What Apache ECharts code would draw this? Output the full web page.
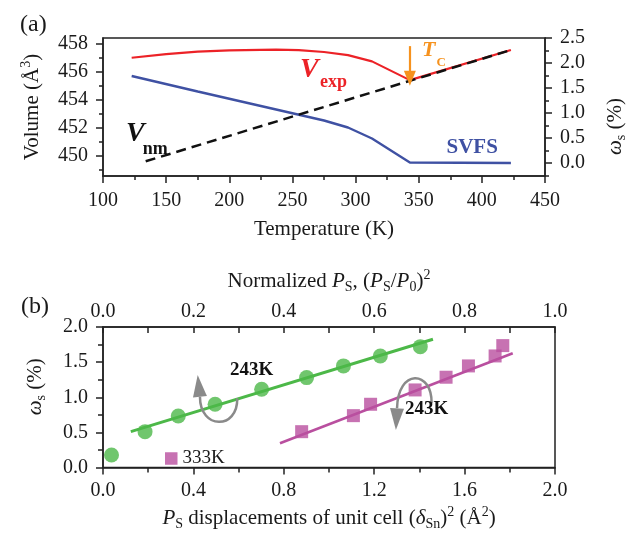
<!DOCTYPE html>
<html>
<head>
<meta charset="utf-8">
<script src="https://cdn.jsdelivr.net/npm/echarts@6/dist/echarts.min.js"></script>
<style>
  html, body { margin: 0; padding: 0; background: #fff; }
  #chart { width: 636px; height: 535px; }
</style>
</head>
<body>
<div id="chart"></div>
<script>
// ---- panel (a): volume / SVFS vs temperature ----
const vexpT = [122.7, 150, 175, 200, 237, 255, 275, 294, 313, 343, 423];
const vexpV = [457.02, 457.28, 457.45, 457.55, 457.6, 457.57, 457.43, 457.21, 456.76, 455.42, 457.57];
const vnmT = [133.8, 423];
const vnmV = [449.62, 457.57];
const svfsT = [122.7, 175, 225, 275, 294, 313, 343, 423];
const svfsW = [1.74, 1.43, 1.14, 0.85, 0.71, 0.49, 0.01, 0.0];
const tcT = 343;
const tcArrowV = [457.85, 455.55];

const volTicks = [450, 452, 454, 456, 458];
const volMinor = [449, 450, 451, 452, 453, 454, 455, 456, 457, 458];
const wTicks = [0, 0.5, 1, 1.5, 2, 2.5];
const wMinor = [-0.25, 0, 0.25, 0.5, 0.75, 1, 1.25, 1.5, 1.75, 2, 2.25, 2.5];

// ---- panel (b): omega_s vs Ps displacement ----
const dispGreen = [0.186, 0.333, 0.496, 0.702, 0.901, 1.064, 1.227, 1.404];
const wGreen = [0.51, 0.733, 0.90, 1.114, 1.28, 1.446, 1.588, 1.72];
const fitGreenX = [0.123, 1.460];
const fitGreenY = [0.51, 1.826];
const dispPink = [0.879, 1.108, 1.184, 1.381, 1.518, 1.617, 1.735, 1.769];
const wPink = [0.51, 0.738, 0.90, 1.104, 1.285, 1.446, 1.588, 1.735];
const fitPinkX = [0.783, 1.813];
const fitPinkY = [0.345, 1.627];

// curved arrows (data coords of panel b)
const arrowsB = [
  { from: [0.594, 0.985], c1: [0.597, 0.534], c2: [0.429, 0.534], to: [0.429, 1.008], tip: [0.419, 1.317] },
  { from: [1.454, 0.914], c1: [1.456, 1.388], c2: [1.305, 1.416], to: [1.301, 0.843], tip: [1.296, 0.534] }
];

const FONT = 'Liberation Serif';
const INK = '#1a1a1a';
const RED = '#ec2227', BLUE = '#3f51a3', GREEN = '#4cb848', PINK = '#b94f9f', ORANGE = '#f6921e', GRAY = '#8a8a8a';

const pairs = (xs, ys) => xs.map((x, i) => [x, ys[i]]);
const fmt1 = v => Number(v).toFixed(1);

const nameRich = {
  n: { fontFamily: FONT, fontSize: 21, color: INK, lineHeight: 26 },
  i: { fontFamily: FONT, fontSize: 21, color: INK, lineHeight: 26, fontStyle: 'italic' },
  sub: { fontFamily: FONT, fontSize: 14, color: INK, lineHeight: 8, verticalAlign: 'bottom' },
  sup: { fontFamily: FONT, fontSize: 14, color: INK, lineHeight: 12, verticalAlign: 'top' }
};
const nameStyle = extra => Object.assign({ fontFamily: FONT, fontSize: 21, color: INK, lineHeight: 26, rich: nameRich }, extra || {});
const axisLine = { show: true, onZero: false, lineStyle: { color: '#222', width: 1.5 } };
const noLine = { show: false, onZero: false };
const tickLine = { color: '#222', width: 1.5 };
const labelStyle = { fontFamily: FONT, fontSize: 20, color: INK };

const chart = echarts.init(document.getElementById('chart'));

const option = {
  animation: false,
  backgroundColor: '#fff',
  grid: [
    { left: 103, right: 81, top: 38, height: 138, show: true, borderColor: '#222', borderWidth: 1.5, backgroundColor: 'transparent' },
    { left: 103, right: 81, top: 327, height: 140.5, show: true, borderColor: '#222', borderWidth: 1.5, backgroundColor: 'transparent' }
  ],
  xAxis: [
    {
      type: 'value', gridIndex: 0, position: 'bottom', min: 100, max: 450, interval: 50,
      axisLine, splitLine: { show: false },
      axisTick: { length: 7, lineStyle: tickLine },
      minorTick: { show: true, splitNumber: 2, length: 4, lineStyle: tickLine },
      axisLabel: Object.assign({ margin: 15 }, labelStyle),
      name: 'Temperature (K)', nameLocation: 'middle', nameGap: 40, nameTextStyle: nameStyle()
    },
    {
      type: 'value', gridIndex: 1, position: 'bottom', min: 0, max: 2, interval: 0.4,
      axisLine, splitLine: { show: false },
      axisTick: { length: 7, lineStyle: tickLine },
      minorTick: { show: true, splitNumber: 2, length: 5, lineStyle: tickLine },
      axisLabel: Object.assign({ margin: 13, formatter: fmt1 }, labelStyle),
      name: '{i|P}{sub|S}{n| displacements of unit cell (}{i|δ}{sub|Sn}{n|)}{sup|2}{n| (Å}{sup|2}{n|)}',
      nameLocation: 'middle', nameGap: 38, nameTextStyle: nameStyle()
    },
    {
      type: 'value', gridIndex: 1, position: 'top', min: 0, max: 1, interval: 0.2,
      axisLine, splitLine: { show: false },
      axisTick: { inside: true, length: 6, lineStyle: tickLine },
      minorTick: { show: true, splitNumber: 2, length: 6, lineStyle: tickLine },
      axisLabel: Object.assign({ margin: 5, formatter: fmt1 }, labelStyle),
      name: '{n|Normalized }{i|P}{sub|S}{n|, (}{i|P}{sub|S}{n|/}{i|P}{sub|0}{n|)}{sup|2}',
      nameLocation: 'middle', nameGap: 33, nameTextStyle: nameStyle()
    }
  ],
  yAxis: [
    {
      type: 'value', gridIndex: 0, position: 'left', min: 448.57, max: 458.43,
      axisLine, splitLine: { show: false },
      axisTick: { customValues: volTicks, length: 7, lineStyle: tickLine },
      axisLabel: Object.assign({ customValues: volTicks, margin: 15 }, labelStyle),
      name: '{n|Volume (Å}{sup|3}{n|)}', nameLocation: 'middle', nameGap: 58, nameTextStyle: nameStyle()
    },
    {
      type: 'value', gridIndex: 0, position: 'left', min: 448.57, max: 458.43,
      axisLine: noLine, splitLine: { show: false }, axisLabel: { show: false },
      axisTick: { customValues: volMinor, length: 4, lineStyle: tickLine }
    },
    {
      type: 'value', gridIndex: 0, position: 'right', min: -0.26, max: 2.5,
      axisLine, splitLine: { show: false },
      axisTick: { customValues: wTicks, length: 7, lineStyle: tickLine },
      axisLabel: Object.assign({ customValues: wTicks, margin: 15, formatter: fmt1 }, labelStyle),
      name: '{i|ω}{sub|s}{n| (%)}', nameLocation: 'middle', nameGap: 57,
      nameTextStyle: nameStyle({ padding: [0, 39, 0, 0] })
    },
    {
      type: 'value', gridIndex: 0, position: 'right', min: -0.26, max: 2.5,
      axisLine: noLine, splitLine: { show: false }, axisLabel: { show: false },
      axisTick: { customValues: wMinor, length: 4, lineStyle: tickLine }
    },
    {
      type: 'value', gridIndex: 1, position: 'left', min: 0, max: 2, interval: 0.5,
      axisLine, splitLine: { show: false },
      axisTick: { length: 7, lineStyle: tickLine },
      minorTick: { show: true, splitNumber: 2, length: 5, lineStyle: tickLine },
      axisLabel: Object.assign({ margin: 15, formatter: fmt1 }, labelStyle),
      name: '{i|ω}{sub|s}{n| (%)}', nameLocation: 'middle', nameGap: 55,
      nameTextStyle: nameStyle({ padding: [0, 0, 0, 21] })
    }
  ],
  legend: [
    {
      data: [{ name: '243K', icon: 'circle' }], left: 104, top: 447.5, padding: 0,
      itemWidth: 15, itemHeight: 15, formatter: () => '', selectedMode: false
    },
    {
      data: [{ name: '333K', icon: 'rect' }], left: 165, top: 449, padding: 0,
      itemWidth: 12.5, itemHeight: 12.5, selectedMode: false,
      textStyle: { fontFamily: FONT, fontSize: 19, color: INK }
    }
  ],
  series: [
    {
      name: 'Vexp', type: 'line', xAxisIndex: 0, yAxisIndex: 0, data: pairs(vexpT, vexpV),
      symbol: 'none', lineStyle: { color: RED, width: 2.2 }, z: 2,
      markLine: {
        silent: true, symbol: ['none', 'triangle'], symbolSize: [12, 15],
        label: { show: false },
        lineStyle: { color: ORANGE, width: 2.2, type: 'solid' },
        data: [[{ coord: [tcT, tcArrowV[0]] }, { coord: [tcT, tcArrowV[1]] }]]
      }
    },
    {
      name: 'Vnm', type: 'line', xAxisIndex: 0, yAxisIndex: 0, data: pairs(vnmT, vnmV),
      symbol: 'none', lineStyle: { color: '#111', width: 2.5, type: [10, 6] }, z: 3
    },
    {
      name: 'SVFS', type: 'line', xAxisIndex: 0, yAxisIndex: 2, data: pairs(svfsT, svfsW),
      symbol: 'none', lineStyle: { color: BLUE, width: 2.4 }, z: 2
    },
    {
      name: 'fit243', type: 'line', xAxisIndex: 1, yAxisIndex: 4, data: pairs(fitGreenX, fitGreenY),
      symbol: 'none', lineStyle: { color: GREEN, width: 3 }, z: 2
    },
    {
      name: '243K', type: 'scatter', xAxisIndex: 1, yAxisIndex: 4, data: pairs(dispGreen, wGreen),
      symbol: 'circle', symbolSize: 15, itemStyle: { color: GREEN }, z: 3
    },
    {
      name: 'fit333', type: 'line', xAxisIndex: 1, yAxisIndex: 4, data: pairs(fitPinkX, fitPinkY),
      symbol: 'none', lineStyle: { color: PINK, width: 2.6 }, z: 2
    },
    {
      name: '333K', type: 'scatter', xAxisIndex: 1, yAxisIndex: 4, data: pairs(dispPink, wPink),
      symbol: 'rect', symbolSize: 13, itemStyle: { color: PINK }, z: 3
    }
  ]
};

chart.setOption(option);

// annotation texts
function label(text, x, y, size, color, weight, italic) {
  return {
    type: 'text', x, y, silent: true, z: 10,
    style: {
      text, fill: color, fontFamily: FONT, fontSize: size,
      fontWeight: weight || 'normal', fontStyle: italic ? 'italic' : 'normal',
      align: 'left', verticalAlign: 'middle', textAlign: 'left', textVerticalAlign: 'middle'
    }
  };
}

const texts = [
  label('(a)', 20, 25, 24, INK),
  label('(b)', 21, 307, 24, INK),
  label('V', 300, 69.5, 28, RED, 'bold', true),
  label('exp', 320, 82.5, 18, RED, 'bold'),
  label('T', 422, 50.5, 22, ORANGE, 'bold', true),
  label('C', 436.5, 62.5, 13, ORANGE, 'bold'),
  label('V', 126, 134, 28, '#111', 'bold', true),
  label('nm', 142.7, 149, 18, '#111', 'bold'),
  label('SVFS', 446.5, 147.5, 21, BLUE, 'bold'),
  label('243K', 230, 370, 19, '#111', 'bold'),
  label('243K', 405, 409.5, 19, '#111', 'bold')
];

// curved gray arrows in panel (b)
const toPx = v => chart.convertToPixel({ seriesIndex: 4 }, v);
const arrowEls = [];
arrowsB.forEach(a => {
  const f = toPx(a.from), c1 = toPx(a.c1), c2 = toPx(a.c2), t = toPx(a.to), tip = toPx(a.tip);
  arrowEls.push({
    type: 'bezierCurve', silent: true, z: 9,
    shape: { x1: f[0], y1: f[1], cpx1: c1[0], cpy1: c1[1], cpx2: c2[0], cpy2: c2[1], x2: t[0], y2: t[1] },
    style: { stroke: GRAY, lineWidth: 2.5, fill: null }
  });
  const dx = tip[0] - t[0], dy = tip[1] - t[1];
  const len = Math.hypot(dx, dy);
  const nx = -dy / len * 7, ny = dx / len * 7;
  arrowEls.push({
    type: 'polygon', silent: true, z: 9,
    shape: { points: [[t[0] + nx, t[1] + ny], [t[0] - nx, t[1] - ny], [tip[0], tip[1]]] },
    style: { fill: GRAY }
  });
});

chart.setOption({ graphic: { elements: texts.concat(arrowEls) } });
</script>
</body>
</html>
